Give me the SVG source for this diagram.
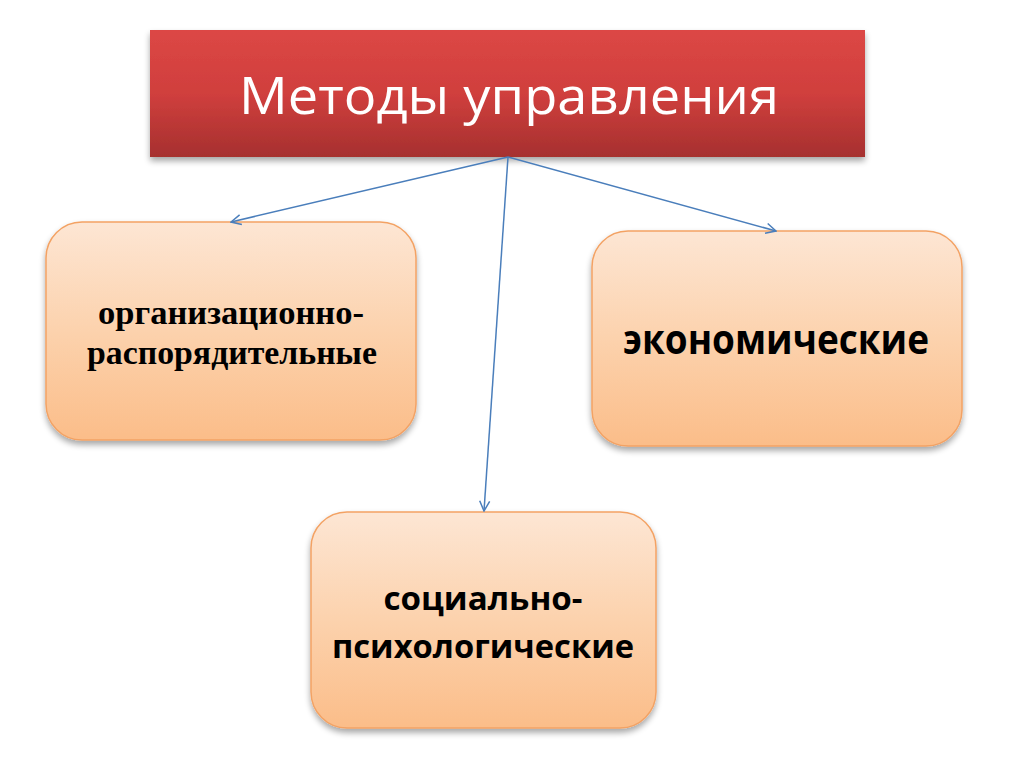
<svg xmlns="http://www.w3.org/2000/svg" width="1024" height="767" viewBox="0 0 1024 767">
<defs>
<linearGradient id="gRed" x1="0" y1="0" x2="0" y2="1">
<stop offset="0" stop-color="#dc4745"/>
<stop offset="0.5" stop-color="#d03f3d"/>
<stop offset="1" stop-color="#a6302f"/>
</linearGradient>
<linearGradient id="gOrange" x1="0" y1="0" x2="0" y2="1">
<stop offset="0" stop-color="#fde6d4"/>
<stop offset="0.5" stop-color="#fcd2ad"/>
<stop offset="1" stop-color="#fbbd89"/>
</linearGradient>
<filter id="shadow" x="-10%" y="-10%" width="120%" height="130%">
<feGaussianBlur in="SourceAlpha" stdDeviation="3"/>
<feOffset dx="0" dy="4"/>
<feComponentTransfer><feFuncA type="linear" slope="0.35"/></feComponentTransfer>
<feMerge><feMergeNode/><feMergeNode in="SourceGraphic"/></feMerge>
</filter>
<marker id="arrow" viewBox="0 0 12 12" refX="11" refY="6" markerWidth="12" markerHeight="12" markerUnits="userSpaceOnUse" orient="auto">
<path d="M1,1 L11,6 L1,11" fill="none" stroke="#4a7ebb" stroke-width="1.5"/>
</marker>
</defs>
<style>
.box{fill:url(#gOrange);stroke:#f3a264;stroke-width:1.5;filter:url(#shadow)}
.conn{stroke:#4a7ebb;stroke-width:1.5;fill:none;marker-end:url(#arrow)}
.sans{font-family:"Open Sans","Liberation Sans",sans-serif;font-weight:bold;fill:#000;text-anchor:middle}
.serif{font-family:"Liberation Serif",serif;font-weight:bold;fill:#000;text-anchor:middle}
</style>
<rect width="1024" height="767" fill="#ffffff"/>
<g id="title">
<rect x="150" y="30" width="715" height="127" fill="url(#gRed)" filter="url(#shadow)"/>
<text x="509" y="114" font-family="Open Sans, Liberation Sans, sans-serif" font-size="52" fill="#ffffff" text-anchor="middle" textLength="540" lengthAdjust="spacingAndGlyphs">Методы управления</text>
</g>
<g id="node-org">
<rect class="box" x="46" y="222" width="370" height="218" rx="36"/>
<text class="serif" x="231" y="324" font-size="34" textLength="266" lengthAdjust="spacingAndGlyphs">организационно-</text>
<text class="serif" x="232" y="364" font-size="34" textLength="290" lengthAdjust="spacingAndGlyphs">распорядительные</text>
</g>
<g id="node-econ">
<rect class="box" x="592" y="231" width="370" height="215" rx="36"/>
<text class="sans" x="776" y="354" font-size="42" textLength="306" lengthAdjust="spacingAndGlyphs">экономические</text>
</g>
<g id="node-soc">
<rect class="box" x="311" y="512" width="345" height="216" rx="36"/>
<text class="sans" x="483" y="610" font-size="32" textLength="199" lengthAdjust="spacingAndGlyphs">социально-</text>
<text class="sans" x="483" y="658" font-size="32" textLength="302" lengthAdjust="spacingAndGlyphs">психологические</text>
</g>
<g id="connectors">
<line class="conn" x1="508" y1="157" x2="231" y2="222"/>
<line class="conn" x1="508" y1="157" x2="776" y2="231"/>
<line class="conn" x1="508" y1="157" x2="484" y2="511"/>
</g>
</svg>
